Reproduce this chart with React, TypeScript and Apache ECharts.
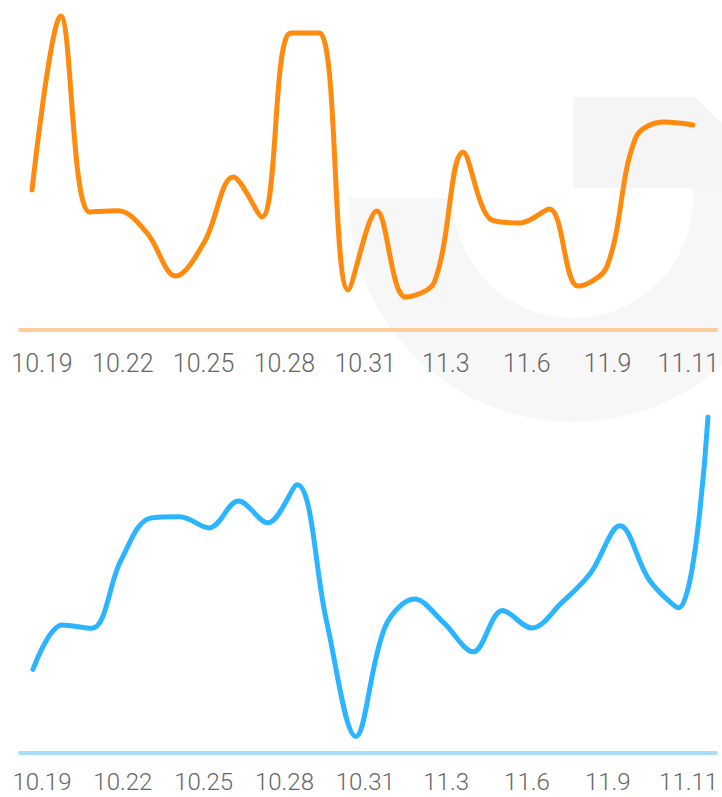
import React, { useEffect, useRef } from "react";
import * as echarts from "echarts";

const dates = [
  "10.19", "10.20", "10.21", "10.22", "10.23", "10.24", "10.25", "10.26",
  "10.27", "10.28", "10.29", "10.30", "10.31", "11.1", "11.2", "11.3",
  "11.4", "11.5", "11.6", "11.7", "11.8", "11.9", "11.10", "11.11",
];
const tickLabels = ["10.19", "10.22", "10.25", "10.28", "10.31", "11.3", "11.6", "11.9", "11.11"];

const orangeValues = [
  44.4, 100, 37.4, 37.8, 30.7, 16.9, 27.8, 48.6, 35.8, 94.6, 94.6, 12.5,
  37.7, 10.2, 15.0, 56.5, 34.8, 33.9, 38.3, 13.7, 19.8, 61.0, 66.1, 65.2,
];
const blueValues = [
  24.9, 38.1, 37.1, 57.4, 69.9, 70.3, 67.0, 75.0, 68.5, 79.8, 39.3, 4.9,
  37.6, 45.8, 38.7, 30.1, 42.4, 37.2, 44.6, 53.6, 67.6, 51.5, 43.2, 100,
];

const W = 722;
const H = 797;

export default function App() {
  const ref = useRef<HTMLDivElement>(null);
  useEffect(() => {
    if (!ref.current) return;
    const chart = echarts.init(ref.current, null, { renderer: "svg" });
    const labelStyle = (margin: number, fontSize: number) => ({
      show: true,
      interval: 0,
      color: "#666666",
      fontSize,
      lineHeight: 20,
      fontFamily: "Roboto",
      fontWeight: 300 as any,
      margin,
    });
    const hiddenCat = (gridIndex: number, data: string[]) => ({
      type: "category",
      gridIndex,
      data,
      boundaryGap: false,
      axisLine: { show: false },
      axisTick: { show: false },
      axisLabel: { show: false },
      splitLine: { show: false },
    });
    const lineAxis = (gridIndex: number, color: string) => ({
      type: "category",
      gridIndex,
      data: tickLabels,
      boundaryGap: false,
      axisLine: { show: true, lineStyle: { color, width: 4 } },
      axisTick: { show: false },
      axisLabel: { show: false },
      splitLine: { show: false },
    });
    const labelAxis = (gridIndex: number, margin: number, fontSize: number) => ({
      type: "category",
      gridIndex,
      data: tickLabels,
      boundaryGap: false,
      axisLine: { show: false },
      axisTick: { show: false },
      axisLabel: labelStyle(margin, fontSize),
      splitLine: { show: false },
    });
    const valAxis = (gridIndex: number) => ({
      type: "value",
      gridIndex,
      min: 0,
      max: 100,
      show: false,
      splitLine: { show: false },
    });
    const option: any = {
      animation: false,
      backgroundColor: "#ffffff",
      graphic: [
        {
          type: "sector",
          z: -10,
          silent: true,
          shape: { cx: 573, cy: 198, r0: 120, r: 224, startAngle: -0.47, endAngle: Math.PI, clockwise: true },
          style: { fill: "#f7f7f7" },
        },
        {
          type: "polygon",
          z: -10,
          silent: true,
          shape: { points: [[573, 97], [695, 97], [722, 124], [722, 188], [573, 188]] },
          style: { fill: "#f5f5f5" },
        },
      ],
      grid: [
        { left: 32, right: W - 693, top: 16, bottom: H - 329 },
        { left: 20, right: W - 716, top: 16, bottom: H - 330 },
        { left: 42, right: W - 688.6, top: 16, bottom: H - 330 },
        { left: 33, right: W - 708, top: 417, bottom: H - 753 },
        { left: 20, right: W - 716, top: 417, bottom: H - 753 },
        { left: 42, right: W - 688.6, top: 417, bottom: H - 753 },
      ],
      xAxis: [
        hiddenCat(0, dates),
        lineAxis(1, "#FFCC9C"),
        labelAxis(2, 23, 25),
        hiddenCat(3, dates),
        lineAxis(4, "#A6DDFB"),
        labelAxis(5, 19, 24),
      ],
      yAxis: [valAxis(0), valAxis(1), valAxis(2), valAxis(3), valAxis(4), valAxis(5)],
      series: [
        {
          type: "line",
          xAxisIndex: 0,
          yAxisIndex: 0,
          data: orangeValues,
          smooth: 0.35,
          showSymbol: false,
          lineStyle: { color: "#FF8A0D", width: 5, cap: "round", join: "round" },
          z: 5,
        },
        {
          type: "line",
          xAxisIndex: 3,
          yAxisIndex: 3,
          data: blueValues,
          smooth: 0.35,
          showSymbol: false,
          lineStyle: { color: "#2BB4FF", width: 5, cap: "round", join: "round" },
          z: 5,
        },
      ],
    };
    chart.setOption(option);
    return () => chart.dispose();
  }, []);
  return (
    <div
      ref={ref}
      style={{ position: "fixed", left: 0, top: 0, width: W, height: H, background: "#fff" }}
    />
  );
}
